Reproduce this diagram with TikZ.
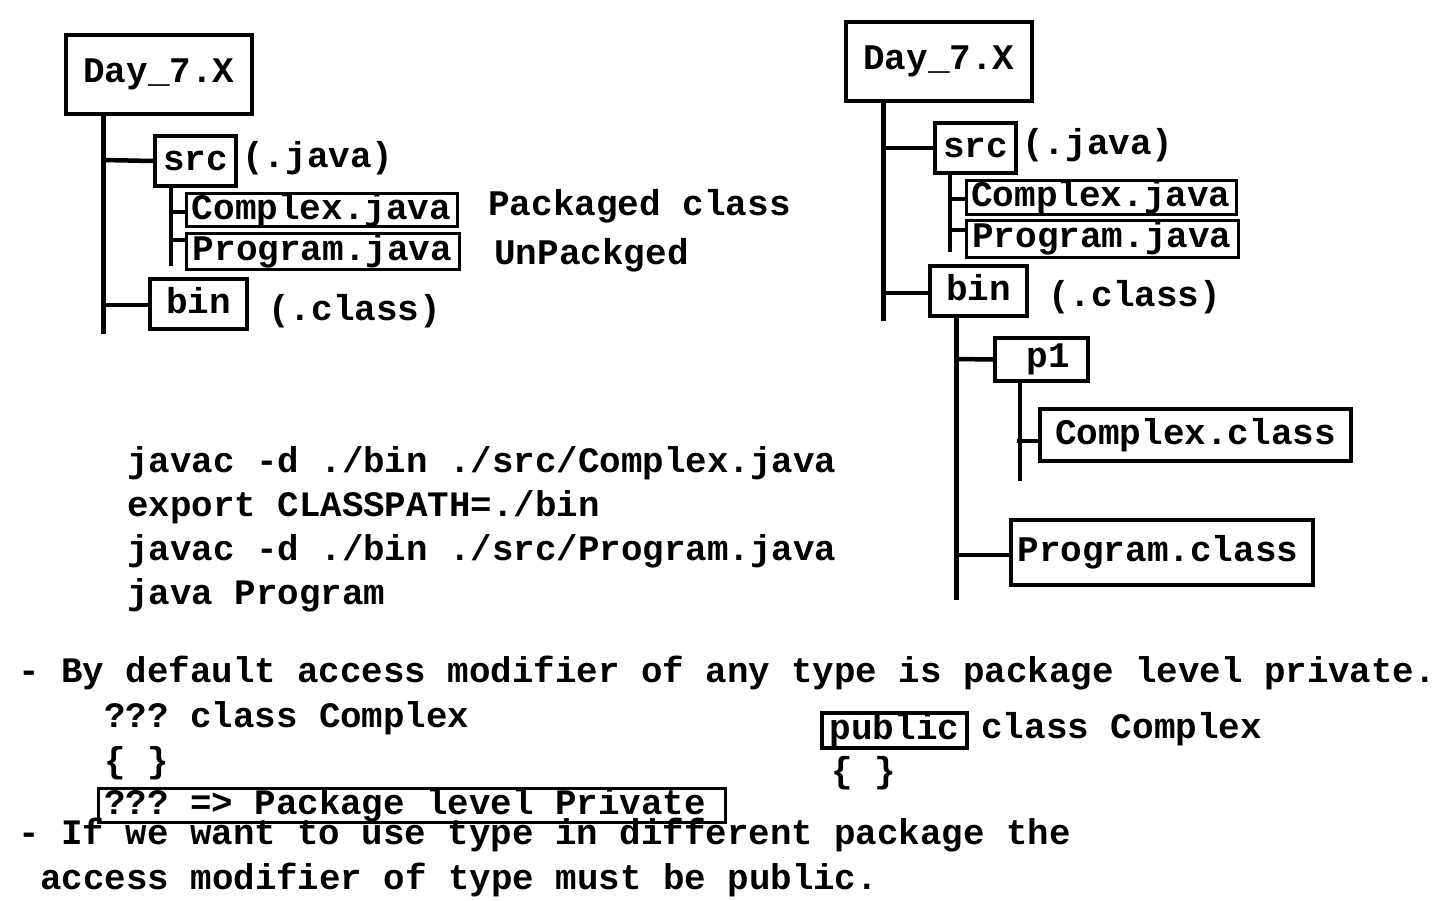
\documentclass[tikz,border=0pt]{standalone}
\usepackage{fontspec}
\setmainfont{Liberation Mono}
\frenchspacing
\begin{document}
\begin{tikzpicture}[x=1pt,y=-1pt,
  every node/.style={font=\fontsize{36}{40}\selectfont\bfseries, inner sep=0pt},
  box/.style={draw, line width=3.5pt, align=center},
  lbl/.style={anchor=west},
  stretched/.style={anchor=west, font=\fontsize{35.8}{40}\selectfont\bfseries},
  trunk/.style={line width=5pt},
  twig/.style={line width=4.5pt}]
\useasboundingbox[fill=white] (0,0) rectangle (1440,900);

% ---------- left tree ----------
\node[box, minimum width=186, minimum height=79] (Lday) at (159,74.5) {\raisebox{4pt}{Day\_7.X}};
\coordinate (Ltop) at (103,114);
\coordinate (Lend) at (103,334);
\draw[trunk] (Ltop) -- (Lend);
\node[box, minimum width=81, minimum height=50] (Lsrc) at (195.5,161) {\raisebox{-4pt}{src}};
\node[lbl] (Ljava) at (242,158) {(.java)};
\coordinate (Lsrcb) at (103,160);
\draw[twig] (Lsrcb) -- (Lsrc.west);
\coordinate (Lsubtop) at (171,186);
\coordinate (Lsubend) at (171,266);
\draw[twig] (Lsubtop) -- (Lsubend);
\node[box, minimum width=271, minimum height=30, line width=3pt] (Lcj) at (321.5,210) {\raisebox{-2pt}{Complex.java}};
\node[box, minimum width=273, minimum height=36, line width=3pt] (Lpj) at (322.5,251) {\raisebox{-2pt}{Program.java}};
\coordinate (Lcjb) at (171,212);
\coordinate (Lpjb) at (171,240);
\draw[twig] (Lcjb) -- (Lcj.west |- Lcjb);
\draw[twig] (Lpjb) -- (Lpj.west |- Lpjb);
\node[lbl] (Lpk) at (488,206) {Packaged class};
\node[lbl] (Lunpk) at (494,255) {UnPackged};
\node[box, minimum width=97, minimum height=50] (Lbin) at (198.5,304) {\raisebox{7pt}{bin}};
\coordinate (Lbinb) at (103,305);
\draw[twig] (Lbinb) -- (Lbin.west |- Lbinb);
\node[lbl] (Lclass) at (268,311) {(.class)};

% ---------- right tree ----------
\node[box, minimum width=186, minimum height=79] (Rday) at (939,61.5) {\raisebox{4pt}{Day\_7.X}};
\coordinate (Rtop) at (883,101);
\coordinate (Rend) at (883,321);
\draw[trunk] (Rtop) -- (Rend);
\node[box, minimum width=81, minimum height=50] (Rsrc) at (975.5,148) {\raisebox{-4pt}{src}};
\node[lbl] (Rjava) at (1022,145) {(.java)};
\coordinate (Rsrcb) at (883,148);
\draw[twig] (Rsrcb) -- (Rsrc.west);
\coordinate (Rsubtop) at (950,173);
\coordinate (Rsubend) at (950,252);
\draw[twig] (Rsubtop) -- (Rsubend);
\node[box, minimum width=270, minimum height=31, line width=3pt] (Rcj) at (1101,197.5) {\raisebox{-1pt}{Complex.java}};
\node[box, minimum width=272, minimum height=37, line width=3pt] (Rpj) at (1102,238.5) {\raisebox{-2pt}{Program.java}};
\coordinate (Rcjb) at (950,199);
\coordinate (Rpjb) at (950,230);
\draw[twig] (Rcjb) -- (Rcj.west |- Rcjb);
\draw[twig] (Rpjb) -- (Rpj.west |- Rpjb);
\node[box, minimum width=97, minimum height=50] (Rbin) at (978.5,291) {\raisebox{7pt}{bin}};
\coordinate (Rbinb) at (883,293);
\draw[twig] (Rbinb) -- (Rbin.west |- Rbinb);
\node[lbl] (Rclass) at (1048,297) {(.class)};
\coordinate (Rbintop) at (956,316);
\coordinate (Rbinend) at (956,600);
\draw[trunk] (Rbintop) -- (Rbinend);
\node[box, minimum width=93, minimum height=43] (Rp1) at (1041.5,359.5) {\hspace*{14pt}p1};
\coordinate (Rp1b) at (956,359);
\draw[twig] (Rp1b) -- (Rp1.west);
\coordinate (Rp1top) at (1020,381);
\coordinate (Rp1end) at (1020,481);
\draw[twig] (Rp1top) -- (Rp1end);
\node[box, minimum width=311, minimum height=52] (Rcc) at (1195.5,435) {\raisebox{5pt}{Complex.class}};
\coordinate (Rccb) at (1017,441);
\draw[twig] (Rccb) -- (Rcc.west |- Rccb);
\node[box, minimum width=302, minimum height=65] (Rpc) at (1162,552.5) {\hspace*{-8pt}Program.class};
\coordinate (Rpcb) at (956,555);
\draw[twig] (Rpcb) -- (Rpc.west |- Rpcb);

% ---------- commands ----------
\node[stretched] (c1) at (127,463) {javac -d ./bin ./src/Complex.java};
\node[stretched] (c2) at (127,507) {export CLASSPATH=./bin};
\node[stretched] (c3) at (127,551) {javac -d ./bin ./src/Program.java};
\node[stretched] (c4) at (127,595) {java Program};

% ---------- bottom text ----------
\node[stretched] (t1) at (18,673) {- By default access modifier of any type is package level private.};
\node[stretched] (t2) at (104,718) {??? class Complex};
\node[stretched] (t3) at (104,763) {\{ \}};
\node[box, line width=3pt, minimum width=627, minimum height=33, stretched] (t4) at (97,805.5) {\raisebox{-1pt}{??? => Package level Private}\hspace*{14pt}};
\node[stretched] (t5) at (18,835) {- If we want to use type in different package the};
\node[stretched] (t6) at (40,880) {access modifier of type must be public.};

\node[box, minimum width=145, minimum height=35] (pub) at (894.5,730.5) {public};
\node[lbl] (pcc) at (981,729) {class Complex};
\node[lbl] (pbr) at (831,773) {\{ \}};
\end{tikzpicture}
\end{document}
